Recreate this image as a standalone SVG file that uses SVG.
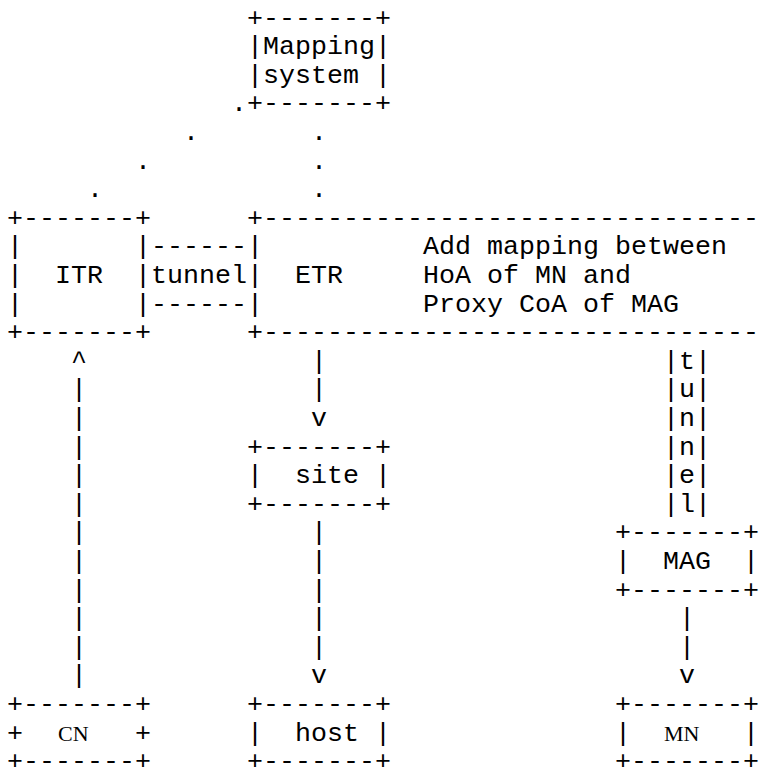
<svg xmlns="http://www.w3.org/2000/svg" width="768" height="768" viewBox="0 0 768 768">
<style>
text { font-family: "Liberation Mono", "Courier New", monospace; font-size: 26.667px; fill: #000; white-space: pre; }
text.s { font-family: "Liberation Serif", "Times New Roman", serif; font-size: 22px; }
</style>
<rect width="768" height="768" fill="#fff"/>
<g id="mapping-system" xml:space="preserve">
<text x="247" y="25.5">+-------+</text>
<text x="247" y="54.1">|Mapping|</text>
<text x="247" y="82.7">|system |</text>
<text x="247" y="111.3">+-------+</text>
</g>
<g id="itr" xml:space="preserve">
<text x="7" y="225.7">+-------+</text>
<text x="7" y="254.3">|</text>
<text x="135" y="254.3">|</text>
<text x="7" y="282.9">|  ITR  |</text>
<text x="7" y="311.5">|</text>
<text x="135" y="311.5">|</text>
<text x="7" y="340.1">+-------+</text>
</g>
<g id="etr" xml:space="preserve">
<text x="247" y="225.7">+-------------------------------</text>
<text x="247" y="254.3">|</text>
<text x="423" y="254.3">Add mapping between</text>
<text x="247" y="282.9">|  ETR</text>
<text x="423" y="282.9">HoA of MN and</text>
<text x="247" y="311.5">|</text>
<text x="423" y="311.5">Proxy CoA of MAG</text>
<text x="247" y="340.1">+-------------------------------</text>
</g>
<g id="site" xml:space="preserve">
<text x="247" y="454.5">+-------+</text>
<text x="247" y="483.1">|  site |</text>
<text x="247" y="511.7">+-------+</text>
</g>
<g id="mag" xml:space="preserve">
<text x="615" y="540.3">+-------+</text>
<text x="615" y="568.9">|  MAG  |</text>
<text x="615" y="597.5">+-------+</text>
</g>
<g id="cn" xml:space="preserve">
<text x="7" y="711.9">+-------+</text>
<text x="7" y="740.5">+</text>
<text class="s" x="58" y="740.5">CN</text>
<text x="135" y="740.5">+</text>
<text x="7" y="769.1">+-------+</text>
</g>
<g id="host" xml:space="preserve">
<text x="247" y="711.9">+-------+</text>
<text x="247" y="740.5">|  host |</text>
<text x="247" y="769.1">+-------+</text>
</g>
<g id="mn" xml:space="preserve">
<text x="615" y="711.9">+-------+</text>
<text x="615" y="740.5">|</text>
<text class="s" x="664" y="740.5">MN</text>
<text x="743" y="740.5">|</text>
<text x="615" y="769.1">+-------+</text>
</g>
<g id="connectors" xml:space="preserve">
<text x="231" y="111.3">.</text>
<text x="183" y="139.9">.</text>
<text x="311" y="139.9">.</text>
<text x="135" y="168.5">.</text>
<text x="311" y="168.5">.</text>
<text x="87" y="197.1">.</text>
<text x="311" y="197.1">.</text>
<text x="151" y="254.3">------</text>
<text x="151" y="282.9">tunnel</text>
<text x="151" y="311.5">------</text>
<text x="71" y="368.7">^</text>
<text x="71" y="397.3">|</text>
<text x="71" y="425.9">|</text>
<text x="71" y="454.5">|</text>
<text x="71" y="483.1">|</text>
<text x="71" y="511.7">|</text>
<text x="71" y="540.3">|</text>
<text x="71" y="568.9">|</text>
<text x="71" y="597.5">|</text>
<text x="71" y="626.1">|</text>
<text x="71" y="654.7">|</text>
<text x="71" y="683.3">|</text>
<text x="311" y="368.7">|</text>
<text x="311" y="397.3">|</text>
<text x="311" y="425.9">v</text>
<text x="311" y="540.3">|</text>
<text x="311" y="568.9">|</text>
<text x="311" y="597.5">|</text>
<text x="311" y="626.1">|</text>
<text x="311" y="654.7">|</text>
<text x="311" y="683.3">v</text>
<text x="663" y="368.7">|t|</text>
<text x="663" y="397.3">|u|</text>
<text x="663" y="425.9">|n|</text>
<text x="663" y="454.5">|n|</text>
<text x="663" y="483.1">|e|</text>
<text x="663" y="511.7">|l|</text>
<text x="679" y="626.1">|</text>
<text x="679" y="654.7">|</text>
<text x="679" y="683.3">v</text>
</g>
</svg>
